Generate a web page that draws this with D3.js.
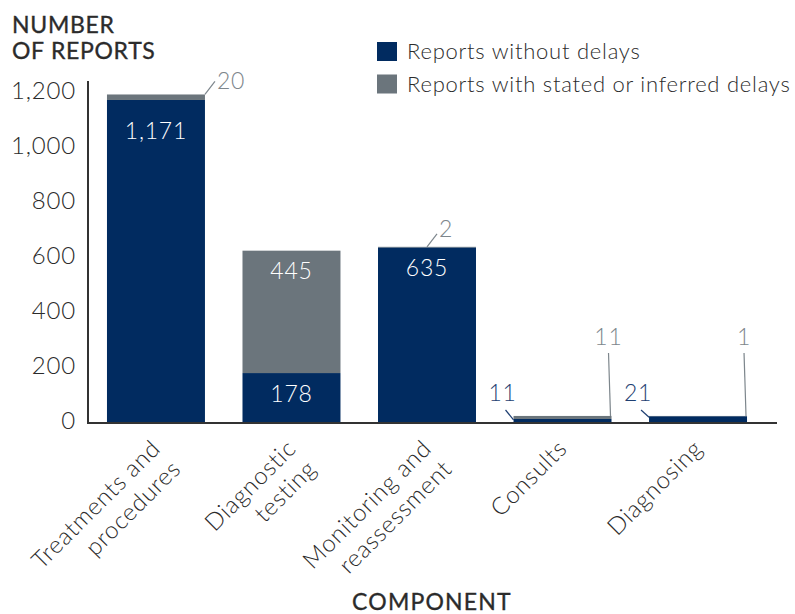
<!DOCTYPE html>
<html><head><meta charset="utf-8">
<script src="https://cdn.jsdelivr.net/npm/d3@7"></script>
<style>
html,body{margin:0;padding:0;background:#fff;}
svg{display:block;font-family:Lato,"Noto Sans",sans-serif;}
</style></head>
<body>
<svg id="chart" width="795" height="614"></svg>
<script>
const categories = ["Treatments and procedures","Diagnostic testing","Monitoring and reassessment","Consults","Diagnosing"];
const categoryLines = [["Treatments and","procedures"],["Diagnostic","testing"],["Monitoring and","reassessment"],["Consults"],["Diagnosing"]];
const withoutDelays = [1171,178,635,11,21];
const withDelays = [20,445,2,11,1];
const yTicks = [0,200,400,600,800,1000,1200];
const seriesNames = ["Reports without delays","Reports with stated or inferred delays"];

const BLUE = "#012b60", GRAY = "#6b757c", TXT = "#2b2b2b", GTXT = "#7d868c", BTXT = "#1f3f72";
const W = 300; // light weight for body text
const svg = d3.select("#chart");
const y = d3.scaleLinear().domain([0,1200]).range([422,92]);
const x = d3.scaleBand().domain(categories).range([88,766]).paddingInner(0.277).paddingOuter(0.14);
const fmt = d3.format(",");

const data = categories.map((c,i)=>({cat:c, lines:categoryLines[i], a:withoutDelays[i], b:withDelays[i]}));

// bars
const g = svg.append("g");
data.forEach(d=>{
  g.append("rect").attr("x",x(d.cat)).attr("width",x.bandwidth())
    .attr("y",y(d.a)).attr("height",y(0)-y(d.a)).attr("fill",BLUE);
  g.append("rect").attr("x",x(d.cat)).attr("width",x.bandwidth())
    .attr("y",y(d.a+d.b)).attr("height",y(d.a)-y(d.a+d.b)).attr("fill",GRAY);
});

// y axis
const yAxis = d3.axisLeft(y).tickValues(yTicks).tickFormat(fmt).tickSize(0).tickPadding(12);
const ya = svg.append("g").attr("transform","translate(88,0)").call(yAxis);
ya.select(".domain").remove();
ya.selectAll("text").attr("font-size",24).attr("fill",TXT).attr("font-family","Lato")
  .attr("font-weight",W).attr("letter-spacing",0.8).attr("dy","0.28em");
svg.append("line").attr("x1",88).attr("x2",88).attr("y1",81).attr("y2",423).attr("stroke","#333").attr("stroke-width",2);
svg.append("line").attr("x1",87).attr("x2",777).attr("y1",423).attr("y2",423).attr("stroke","#333").attr("stroke-width",2);

// x labels
data.forEach(d=>{
  const cx = x(d.cat)+x.bandwidth()/2;
  const t = svg.append("text").attr("transform",`translate(${cx+6},${450}) rotate(-45)`)
    .attr("text-anchor","end").attr("font-size",24).attr("font-weight",W)
    .attr("letter-spacing",0.8).attr("fill",TXT);
  d.lines.forEach((l,k)=>t.append("tspan").attr("x",0).attr("dy",k===0?0:"1.2em").text(l));
});

// inside labels
data.forEach(d=>{
  const cx = x(d.cat)+x.bandwidth()/2;
  if (d.a > 100) {
    const off = d.a > 1000 ? 39 : 29;
    svg.append("text").attr("x",cx).attr("y",y(d.a)+off).attr("text-anchor","middle")
      .attr("font-size",23).attr("font-weight",W).attr("letter-spacing",0.8).attr("fill","#fff").text(fmt(d.a));
  }
  if (d.b > 100) {
    svg.append("text").attr("x",cx).attr("y",y(d.a+d.b)+28).attr("text-anchor","middle")
      .attr("font-size",23).attr("font-weight",W).attr("letter-spacing",0.8).attr("fill","#fff").text(fmt(d.b));
  }
});

// outside labels with leader lines
data.forEach((d,i)=>{
  const x0 = x(d.cat), x1 = x0 + x.bandwidth(), cx = x0 + x.bandwidth()/2;
  const top = y(d.a+d.b);
  if (d.a <= 100) {
    svg.append("line").attr("x1",x0-8).attr("y1",y(0)-12).attr("x2",x0).attr("y2",y(d.a)+1)
      .attr("stroke",BTXT).attr("stroke-width",1.2);
    svg.append("text").attr("x",x0-11).attr("y",y(0)-21).attr("text-anchor","middle")
      .attr("font-size",23).attr("font-weight",W).attr("letter-spacing",0.8).attr("fill",BTXT).text(fmt(d.a));
    svg.append("line").attr("x1",x1-3).attr("y1",y(0)-69).attr("x2",x1-1).attr("y2",top)
      .attr("stroke",GTXT).attr("stroke-width",1.2);
    svg.append("text").attr("x",x1-3).attr("y",y(0)-77).attr("text-anchor","middle")
      .attr("font-size",23).attr("font-weight",W).attr("letter-spacing",0.8).attr("fill",GTXT).text(fmt(d.b));
  } else if (d.b < 100) {
    const sx = d.b >= 10 ? x1 : cx;
    svg.append("line").attr("x1",sx).attr("y1",top).attr("x2",sx+10).attr("y2",top-13)
      .attr("stroke",GTXT).attr("stroke-width",1.2);
    svg.append("text").attr("x",sx+12).attr("y",top-(d.b>=10?5:10)).attr("text-anchor","start")
      .attr("font-size",23).attr("font-weight",W).attr("letter-spacing",0.8).attr("fill",GTXT).text(fmt(d.b));
  }
});

// titles
const tt = svg.append("text").attr("x",12).attr("font-size",23).attr("font-weight",400)
  .attr("letter-spacing",0.7).attr("fill",TXT).attr("stroke",TXT).attr("stroke-width",0.35);
tt.append("tspan").attr("x",12).attr("y",33).text("NUMBER");
tt.append("tspan").attr("x",12).attr("y",59).text("OF REPORTS");
svg.append("text").attr("x",432).attr("y",610).attr("text-anchor","middle").attr("font-size",23)
  .attr("font-weight",400).attr("letter-spacing",1.2).attr("fill",TXT).attr("stroke",TXT).attr("stroke-width",0.35)
  .text("COMPONENT");

// legend
const lg = svg.append("g");
[BLUE,GRAY].forEach((c,i)=>{
  lg.append("rect").attr("x",377).attr("y",42+i*32.5).attr("width",20).attr("height",19).attr("fill",c);
  lg.append("text").attr("x",407).attr("y",59+i*32.5).attr("font-size",22).attr("font-weight",W)
    .attr("letter-spacing",0.75).attr("fill",TXT).text(seriesNames[i]);
});
</script>
</body></html>
